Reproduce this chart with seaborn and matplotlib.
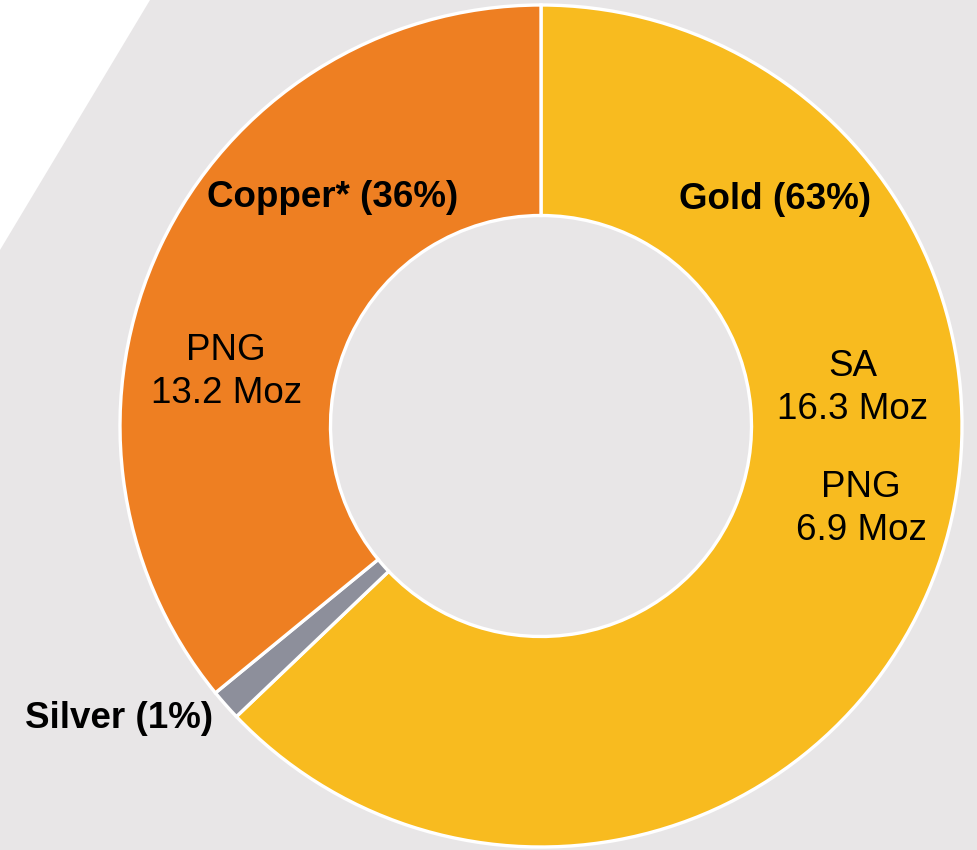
import matplotlib.pyplot as plt
import seaborn as sns
from matplotlib.patches import Polygon

# Resource split (clockwise from 12 o'clock)
metals = ["Gold", "Silver", "Copper*"]
shares = [63, 1.2, 36]
colors = ["#f8bb1f", "#8d8f9b", "#ee7f22"]
share_labels = ["Gold (63%)", "Silver (1%)", "Copper* (36%)"]
region_labels = ["SA\n16.3 Moz", "PNG\n6.9 Moz", "PNG\n13.2 Moz"]

sns.set_style("white")
plt.rcParams['font.family'] = ['Liberation Sans', 'DejaVu Sans']

fig = plt.figure(figsize=(9.77, 8.5), dpi=100, facecolor="#e8e6e7")
fig.patches.append(Polygon([(0, 1), (150 / 977, 1), (0, 1 - 250 / 850)],
                           closed=True, transform=fig.transFigure,
                           facecolor="white", edgecolor="none", zorder=0))

ax = fig.add_axes([0, 0, 1, 1])
ax.set_facecolor("none")

wedges, _ = ax.pie(shares, colors=colors, startangle=90, counterclock=False,
                   radius=1, wedgeprops=dict(width=0.5, edgecolor="white", linewidth=2.4))

# map pixel layout to data units (421 px per radius)
s = 421
ax.set_xlim(-541 / s, (977 - 541) / s)
ax.set_ylim(-(850 - 426) / s, 426 / s)
ax.set_aspect("equal")
ax.axis("off")

bold = dict(fontsize=26.5, fontweight="bold", color="black")
ax.text(0.556, 0.537, share_labels[0], ha="center", va="center", **bold)
ax.text(-0.494, 0.542, share_labels[2], ha="center", va="center", **bold)
ax.text(-0.779, -0.694, share_labels[1], ha="right", va="center", **bold)

reg = dict(fontsize=26.5, color="black", linespacing=1.32)
ax.text(0.741, 0.090, region_labels[0], ha="center", va="center", **reg)
ax.text(0.760, -0.197, region_labels[1], ha="center", va="center", **reg)
ax.text(-0.748, 0.128, region_labels[2], ha="center", va="center", **reg)

plt.savefig("out.png", dpi=100, facecolor=fig.get_facecolor())
plt.close()
